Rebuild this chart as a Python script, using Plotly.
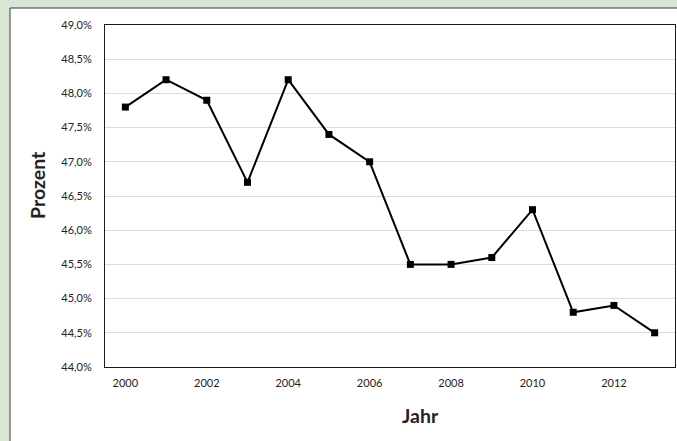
import plotly.graph_objects as go

years = [2000, 2001, 2002, 2003, 2004, 2005, 2006, 2007, 2008, 2009, 2010, 2011, 2012, 2013]
prozent = [47.8, 48.2, 47.9, 46.7, 48.2, 47.4, 47.0, 45.5, 45.5, 45.6, 46.3, 44.8, 44.9, 44.5]
x_ticks = [2000, 2002, 2004, 2006, 2008, 2010, 2012]
y_ticks = [44.0, 44.5, 45.0, 45.5, 46.0, 46.5, 47.0, 47.5, 48.0, 48.5, 49.0]

W, H = 677, 441
ml, mr, mt, mb = 105, 2, 25, 74
pw, ph = W - ml - mr, H - mt - mb

def px2x(px):
    return (px - ml) / pw

def py2y(py):
    return (H - mb - py) / ph

fig = go.Figure()
fig.add_trace(go.Scatter(
    x=years, y=prozent, mode="lines+markers",
    line=dict(color="black", width=2),
    marker=dict(symbol="square", size=7, color="black"),
    showlegend=False,
))

fig.add_shape(type="rect", xref="paper", yref="paper",
              x0=px2x(10), y0=py2y(460), x1=px2x(700), y1=py2y(8),
              fillcolor="white", line=dict(color="#3a3a3a", width=1), layer="below")

fig.add_annotation(text="<b>Jahr</b>", xref="paper", yref="paper",
                   x=px2x(421), y=py2y(415), xanchor="center", yanchor="middle",
                   showarrow=False, font=dict(family="Lato", size=19.5, color="#222222"))
fig.add_annotation(text="<b>Prozent</b>", xref="paper", yref="paper",
                   x=px2x(37), y=py2y(185), xanchor="center", yanchor="middle",
                   textangle=-90, showarrow=False,
                   font=dict(family="Lato", size=19.5, color="#222222"))

fig.update_layout(
    width=W, height=H,
    margin=dict(l=ml, r=mr, t=mt, b=mb),
    paper_bgcolor="#d8e6d3",
    plot_bgcolor="white",
    font=dict(family="Lato, 'Open Sans', sans-serif", color="#222222", size=11),
    xaxis=dict(
        range=[1999.5, 2013.5], tickvals=x_ticks, ticktext=[str(v) for v in x_ticks],
        showgrid=False, zeroline=False,
        showline=True, mirror=True, linecolor="#1a1a1a", linewidth=1,
        ticks="", ticklabelstandoff=6,
    ),
    yaxis=dict(
        range=[44.0, 49.0], tickvals=y_ticks,
        ticktext=[f"{v:.1f}".replace(".", ",") + "%" for v in y_ticks],
        showgrid=True, gridcolor="#dcdcdc", gridwidth=1, zeroline=False,
        showline=True, mirror=True, linecolor="#1a1a1a", linewidth=1,
        ticks="", ticklabelstandoff=10,
    ),
)

fig.write_html("out.html")
